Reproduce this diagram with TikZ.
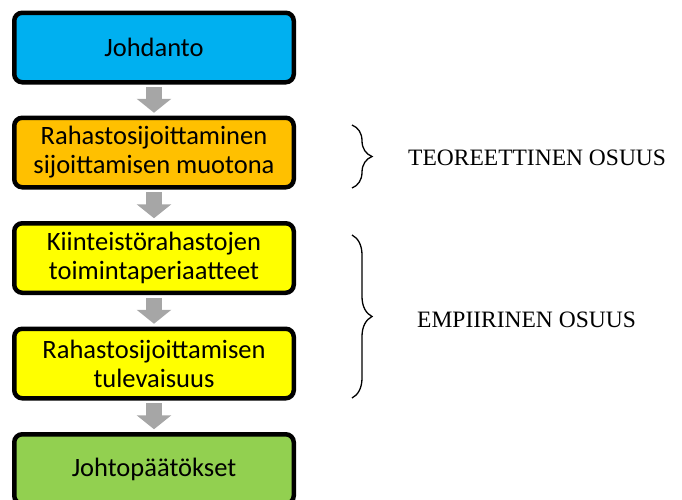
\documentclass[tikz,border=0pt]{standalone}
\usepackage{fontspec}
\setmainfont{Carlito}
\newfontfamily\tnr{Liberation Serif}
\usetikzlibrary{arrows.meta,decorations.pathreplacing}
\definecolor{cblue}{HTML}{00B0F0}
\definecolor{corange}{HTML}{FFC000}
\definecolor{cyellow}{HTML}{FFFF00}
\definecolor{cgreen}{HTML}{92D050}
\definecolor{cgray}{HTML}{A6A6A6}
\begin{document}
\begin{tikzpicture}[x=1pt,y=-1pt,
  stagebox/.style={draw=black, line width=4.5pt, rounded corners=8pt,
    minimum width=279.5pt, minimum height=69.5pt, inner sep=0pt, outer sep=0pt,
    align=center, font=\fontsize{26.5}{29}\selectfont},
  blockarrow/.style={draw=cgray, line width=16pt,
    -{Triangle[width=34pt,length=14pt]}, shorten <=5pt, shorten >=5pt},
  partbrace/.style={draw=black, line width=1.3pt, decorate,
    decoration={brace, amplitude=20pt}},
  partlabel/.style={anchor=base west, inner sep=0pt, font=\tnr\fontsize{23.5}{26}\selectfont}]
\clip (0,0) rectangle (682,499);
\node[stagebox, fill=cblue] (b1) at (154,47.5) {Johdanto};
\node[stagebox, fill=corange] (b2) at (154,152.5) {Rahastosijoittaminen\\sijoittamisen muotona};
\node[stagebox, fill=cyellow] (b3) at (154,258) {Kiinteistörahastojen\\toimintaperiaatteet};
\node[stagebox, fill=cyellow] (b4) at (154,363.5) {Rahastosijoittamisen\\tulevaisuus};
\node[stagebox, fill=cgreen] (b5) at (154,469) {Johtopäätökset};
\draw[blockarrow] (b1.south) -- (b2.north);
\draw[blockarrow] (b2.south) -- (b3.north);
\draw[blockarrow] (b3.south) -- (b4.north);
\draw[blockarrow] (b4.south) -- (b5.north);
\coordinate (t1) at (352,125);
\coordinate (t2) at (352,188);
\coordinate (e1) at (352,235);
\coordinate (e2) at (352,398);
\draw[partbrace] (t1) -- (t2);
\draw[partbrace] (e1) -- (e2);
\node[partlabel] (teo) at (408,165) {TEOREETTINEN OSUUS};
\node[partlabel] (emp) at (417,327) {EMPIIRINEN OSUUS};
\end{tikzpicture}
\end{document}
